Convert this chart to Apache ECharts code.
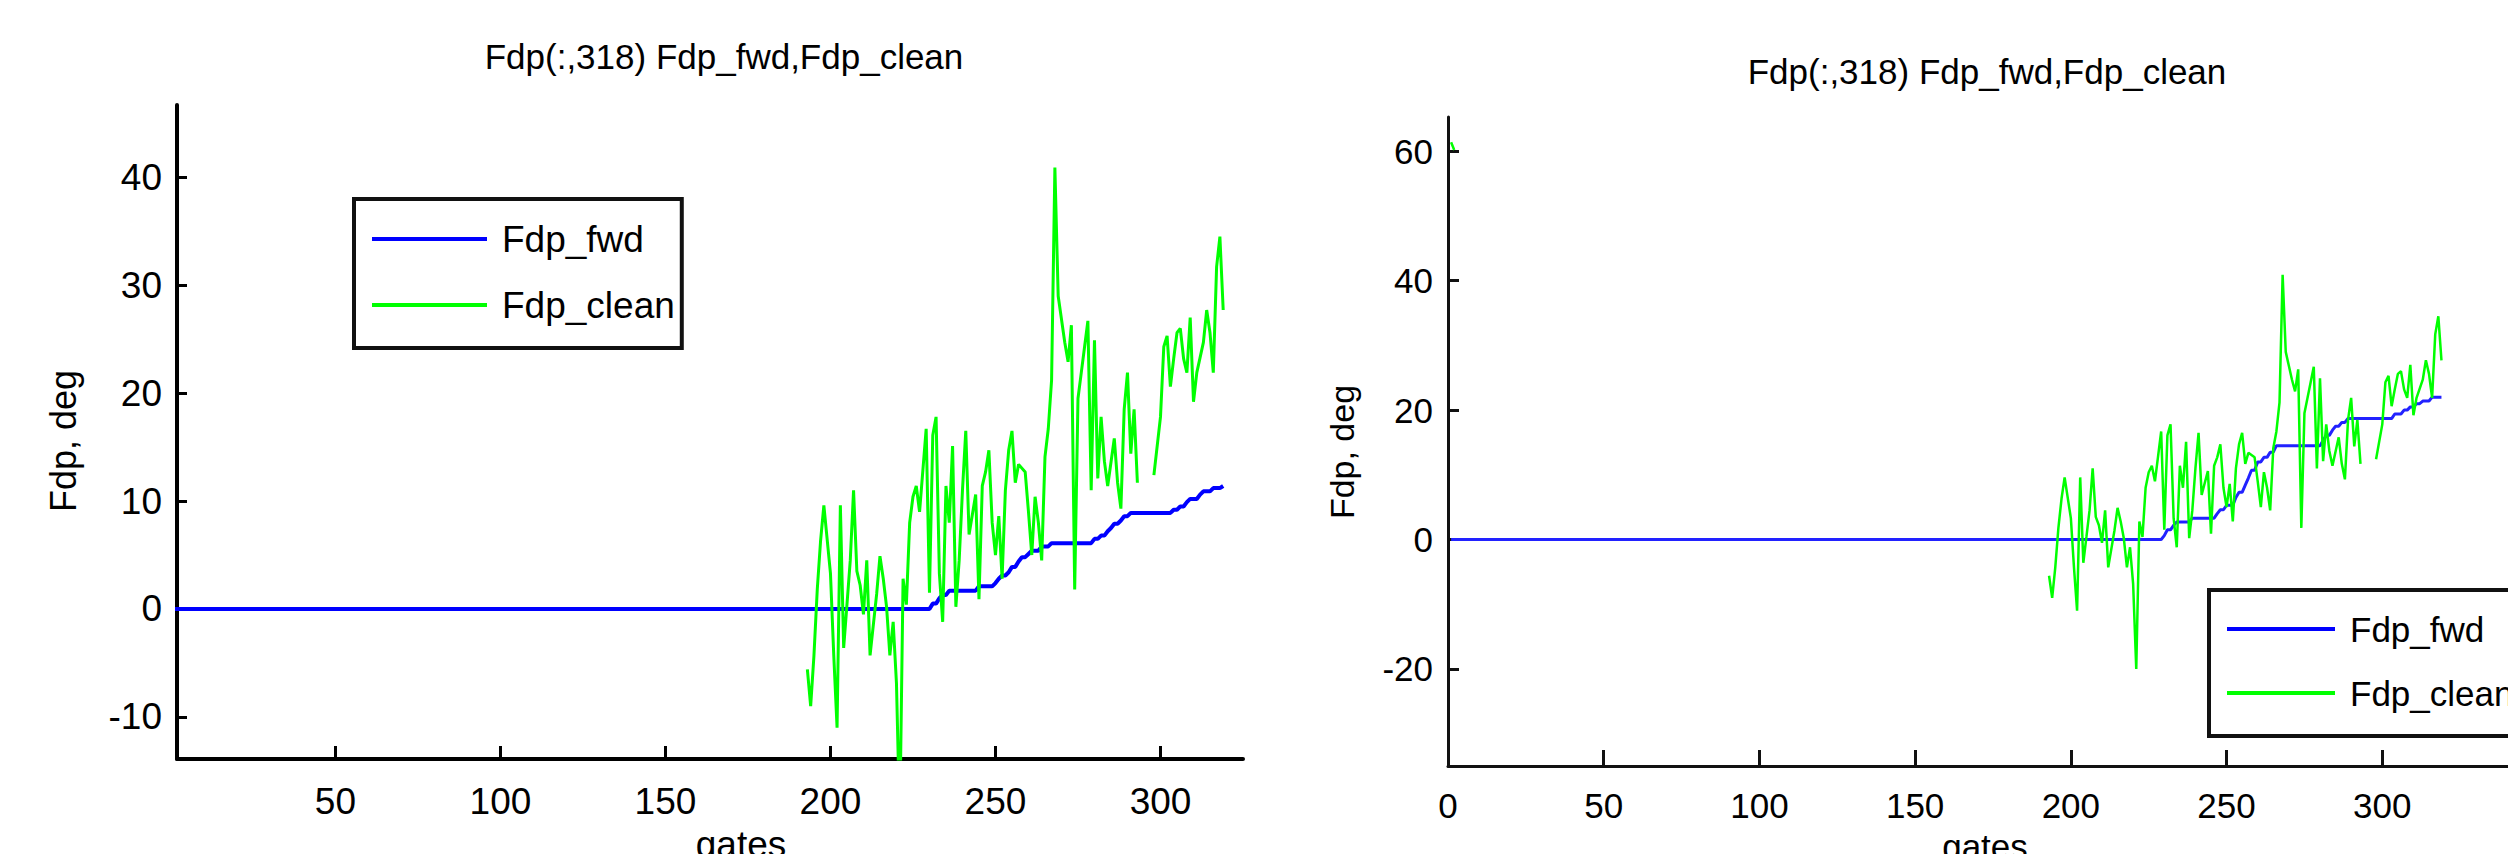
<!DOCTYPE html>
<html>
<head>
<meta charset="utf-8">
<title>Fdp(:,318) Fdp_fwd,Fdp_clean</title>
<script src="https://cdn.jsdelivr.net/npm/echarts@6/dist/echarts.min.js"></script>
<style>
  html, body { margin: 0; padding: 0; background: #fff; }
  #chart { width: 2508px; height: 854px; }
</style>
</head>
<body>
<div id="chart"></div>
<script>
// ---------------- data ----------------
const titleText = 'Fdp(:,318) Fdp_fwd,Fdp_clean';
const xName = 'gates';
const yName = 'Fdp, deg';
const seriesNames = ['Fdp_fwd', 'Fdp_clean'];

// tick labels
const leftXTicks = [50, 100, 150, 200, 250, 300];
const leftYTicks = [-10, 0, 10, 20, 30, 40];
const rightXTicks = [0, 50, 100, 150, 200, 250, 300, 350];
const rightYTicks = [-20, 0, 20, 40, 60];

// Fdp_clean (same in both panels); null = missing gate
const cleanGates = [1, 2, 3,
  193, 194, 195, 196, 197, 198, 200, 201, 202, 203, 204, 205, 206, 207, 208, 209,
  210, 211, 212, 214, 215, 216, 217, 218, 219, 220, 221, 222, 223, 224, 225, 226,
  227, 229, 230, 231, 232, 233, 234, 235, 236, 237, 238, 239, 240, 241, 242, 244,
  245, 246, 247, 248, 249, 250, 251, 252, 253, 254, 255, 256, 257, 259, 260, 261,
  262, 263, 264, 265, 266, 267, 268, 269, 271, 272, 273, 274, 275, 276, 277, 278,
  279, 280, 281, 282, 283, 284, 286, 287, 288, 289, 290, 291, 292, 293, 294,
  298, 300, 301, 302, 303, 304, 305, 306, 307, 308, 309, 310, 311, 313, 314, 315,
  316, 317, 318, 319];
const cleanValues = [61.4, 60.2, null,
  -5.6, -9.0, -4.3, 1.8, 6.3, 9.6, 3.3, -4.3, -11.0, 9.6, -3.6, 0.4, 4.5, 11.0, 3.5, 2.2,
  -0.5, 4.5, -4.3, 1.4, 4.9, 2.8, 0.2, -4.3, -1.2, -6.9, -20.0, 2.8, 0.4, 8.0, 10.4, 11.4,
  9.0, 16.7, 1.5, 16.1, 17.8, 3.3, -1.2, 11.4, 8.0, 15.1, 0.2, 4.5, 11.0, 16.5, 6.9, 10.6,
  0.9, 11.4, 12.7, 14.7, 8.0, 5.0, 8.6, 2.8, 11.0, 14.7, 16.5, 11.7, 13.4, 12.7, 9.0, 5.0,
  10.4, 8.0, 4.5, 14.1, 16.7, 21.2, 40.9, 29.0, 24.7, 22.9, 26.3, 1.8, 19.5, 21.9, 24.3, 26.7,
  11.0, 24.9, 12.1, 17.8, 13.7, 11.4, 15.8, 11.7, 9.3, 18.5, 21.9, 14.4, 18.5, 11.7, null,
  12.4, 17.8, 24.3, 25.3, 20.6, 23.2, 25.6, 26.0, 23.2, 21.9, 27.0, 19.2, 21.9, 24.7, 27.7, 25.6,
  21.9, 31.7, 34.5, 27.7];

// Fdp_fwd, left panel (step corners)
const fwdLeftGates = [1, 230, 231, 232, 233, 234, 235, 236, 244, 245, 249, 250, 251, 252, 253,
  254, 255, 256, 257, 258, 259, 260, 261, 263, 264, 266, 267, 279, 280, 281, 282, 283, 284,
  285, 286, 287, 288, 289, 290, 291, 303, 304, 305, 306, 307, 308, 309, 311, 312, 313, 315,
  316, 318, 319];
const fwdLeftValues = [0, 0, 0.5, 0.5, 1.0, 1.3, 1.3, 1.7, 1.7, 2.1, 2.1, 2.4, 2.8, 3.1, 3.1,
  3.4, 3.9, 3.9, 4.4, 4.8, 4.8, 5.1, 5.4, 5.4, 5.8, 5.8, 6.1, 6.1, 6.5, 6.5, 6.8, 6.8, 7.2,
  7.5, 7.9, 7.9, 8.2, 8.6, 8.6, 8.9, 8.9, 9.2, 9.2, 9.5, 9.5, 9.9, 10.2, 10.2, 10.6, 10.9, 10.9,
  11.2, 11.2, 11.4];

// Fdp_fwd, right panel (step corners)
const fwdRightGates = [1, 229, 230, 231, 232, 233, 234, 238, 239, 246, 247, 248, 249, 250, 252,
  253, 254, 255, 256, 257, 258, 259, 260, 261, 262, 263, 264, 265, 266, 280, 281, 282, 283,
  284, 285, 286, 287, 288, 289, 303, 304, 306, 307, 308, 309, 310, 311, 312, 313, 315, 316, 319];
const fwdRightValues = [0, 0, 0.6, 1.5, 1.5, 2.2, 2.7, 2.7, 3.3, 3.3, 4.0, 4.6, 4.6, 5.3, 5.3,
  6.5, 7.3, 7.3, 8.4, 9.5, 10.7, 10.7, 12.0, 12.0, 12.7, 12.7, 13.5, 13.5, 14.5, 14.5, 15.3, 16.1, 16.1,
  16.9, 17.5, 17.5, 18.1, 18.1, 18.7, 18.7, 19.4, 19.4, 20.0, 20.0, 20.5, 20.5, 21.0, 21.0, 21.4, 21.4, 22.0, 22.0];

// ---------------- chart ----------------
const FONT = "'Liberation Sans', Arial, Helvetica, sans-serif";
const BLUE = '#0000ff';
const GREEN = '#00ff00';

function pairs(xs, ys) {
  return xs.map((x, i) => [x, ys[i] == null ? '-' : ys[i]]);
}

function axisCfg(grid, min, max, ticks, opt) {
  return {
    type: 'value', gridIndex: grid, min: min, max: max,
    axisLine: { show: true, onZero: false, lineStyle: { color: opt.color, width: opt.axisW } },
    axisTick: { show: true, inside: true, length: opt.tickLen, customValues: ticks,
      lineStyle: { color: opt.color, width: 3 } },
    axisLabel: { show: true, customValues: ticks, fontSize: opt.fs, color: '#000',
      fontFamily: FONT, margin: opt.margin, hideOverlap: false },
    splitLine: { show: false }
  };
}
function legendCfg(left, top, fs, lineH, itemW, pad, gap, textPadB) {
  return {
    orient: 'vertical', left: left, top: top,
    padding: pad, itemGap: gap, itemWidth: itemW, itemHeight: 4,
    icon: 'rect', selectedMode: false,
    backgroundColor: '#fff', borderColor: '#111', borderWidth: 4,
    textStyle: { fontSize: fs, fontFamily: FONT, color: '#000', lineHeight: lineH,
      padding: [0, 0, textPadB, 10] },
    data: seriesNames
  };
}
function txt(x, y, text, fs, rot) {
  return { type: 'text', x: x, y: y, rotation: rot || 0, silent: true,
    style: { text: text, fontSize: fs, fontFamily: FONT, fill: '#000',
      align: 'center', verticalAlign: 'middle' } };
}

const chart = echarts.init(document.getElementById('chart'), null, { renderer: 'svg' });
chart.setOption({
  animation: false,
  backgroundColor: '#fff',
  textStyle: { fontFamily: FONT },
  grid: [
    { left: 177, top: 105, width: 1066, height: 654, containLabel: false, outerBoundsMode: 'none' },
    { left: 1448, top: 117, width: 1090, height: 649, containLabel: false, outerBoundsMode: 'none' }
  ],
  xAxis: [
    axisCfg(0, 2, 325, leftXTicks, { color: '#000', axisW: 4, tickLen: 13, fs: 37, margin: 24 }),
    axisCfg(1, 0, 350, rightXTicks, { color: '#111', axisW: 3, tickLen: 16, fs: 35, margin: 22 })
  ],
  yAxis: [
    axisCfg(0, -13.9, 46.7, leftYTicks, { color: '#000', axisW: 4, tickLen: 10, fs: 37, margin: 15 }),
    axisCfg(1, -35, 65.3, rightYTicks, { color: '#111', axisW: 3, tickLen: 11, fs: 35, margin: 15 })
  ],
  legend: [
    legendCfg(354, 199, 37, 40, 115, [8, 7, 11, 18], 2, 24),
    legendCfg(2209, 590, 35, 38, 108, [7, 20, 11, 18], 0, 26)
  ],
  series: [
    { type: 'line', name: seriesNames[0], xAxisIndex: 0, yAxisIndex: 0,
      data: pairs(fwdLeftGates, fwdLeftValues), symbol: 'none', showSymbol: false,
      lineStyle: { color: BLUE, width: 4 }, itemStyle: { color: BLUE }, z: 2 },
    { type: 'line', name: seriesNames[1], xAxisIndex: 0, yAxisIndex: 0,
      data: pairs(cleanGates, cleanValues), symbol: 'none', showSymbol: false, connectNulls: false,
      lineStyle: { color: GREEN, width: 3 }, itemStyle: { color: GREEN }, z: 3 },
    { type: 'line', name: seriesNames[0], xAxisIndex: 1, yAxisIndex: 1,
      data: pairs(fwdRightGates, fwdRightValues), symbol: 'none', showSymbol: false,
      lineStyle: { color: '#2222ff', width: 3 }, itemStyle: { color: '#2222ff' }, z: 2 },
    { type: 'line', name: seriesNames[1], xAxisIndex: 1, yAxisIndex: 1,
      data: pairs(cleanGates, cleanValues), symbol: 'none', showSymbol: false, connectNulls: false,
      lineStyle: { color: GREEN, width: 2.5 }, itemStyle: { color: GREEN }, z: 3 }
  ],
  graphic: [
    txt(724, 56, titleText, 35),
    txt(1987, 71, titleText, 35),
    txt(63, 441, yName, 36, Math.PI / 2),
    txt(1342, 452, yName, 34, Math.PI / 2),
    txt(741, 844, xName, 37),
    txt(1985, 846, xName, 35)
  ]
});
</script>
</body>
</html>
